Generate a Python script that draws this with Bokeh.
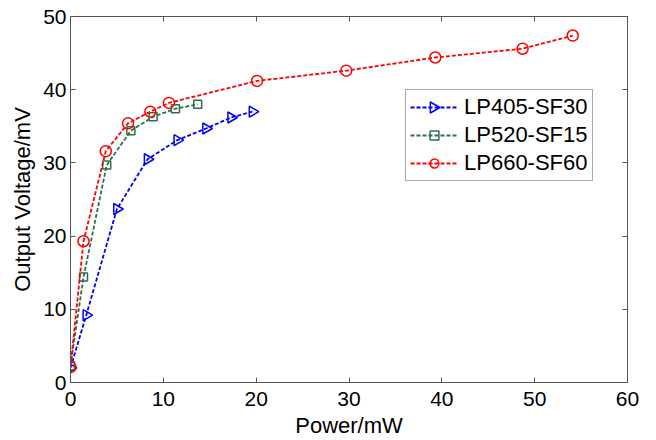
import numpy as np
from bokeh.plotting import figure
from bokeh.models import LinearAxis, Legend, LegendItem, Range1d, FixedTicker
from bokeh.embed import file_html
from bokeh.resources import INLINE

# Data
lp405_x = [0.0, 1.7, 5.0, 8.3, 11.5, 14.6, 17.3, 19.6]
lp405_y = [2.0, 9.2, 23.7, 30.5, 33.1, 34.7, 36.2, 37.0]

lp520_x = [0.0, 1.4, 3.9, 6.5, 8.9, 11.3, 13.7]
lp520_y = [2.3, 14.4, 29.7, 34.4, 36.3, 37.4, 38.0]

lp660_x = [0.0, 1.4, 3.8, 6.2, 8.6, 10.6, 20.1, 29.7, 39.3, 48.7, 54.1]
lp660_y = [2.1, 19.3, 31.6, 35.4, 37.0, 38.2, 41.2, 42.6, 44.4, 45.6, 47.4]

series_names = ["LP405-SF30", "LP520-SF15", "LP660-SF60"]
x_ticks = [0, 10, 20, 30, 40, 50, 60]
y_ticks = [0, 10, 20, 30, 40, 50]

FONT = "Liberation Sans"
AXC = "#555555"

W, H = 656, 440
BL, BR, BT, BB = 70, 29, 16, 56
X0, X1, Y0, Y1 = 0, 60, 0, 50

p = figure(width=W, height=H, output_backend="svg", toolbar_location=None,
           x_range=Range1d(X0, X1), y_range=Range1d(Y0, Y1),
           min_border_left=BL, min_border_right=BR, min_border_top=BT, min_border_bottom=BB)
p.grid.visible = False
p.outline_line_color = AXC
p.background_fill_color = "white"

for ax in [p.xaxis[0], p.yaxis[0]]:
    ax.major_label_text_font = FONT
    ax.major_label_text_font_size = "21px"
    ax.major_label_text_color = "black"
    ax.axis_label_text_font = FONT
    ax.axis_label_text_font_size = "22px"
    ax.axis_label_text_font_style = "normal"
    ax.axis_label_text_color = "black"
    ax.axis_line_color = AXC
    ax.major_tick_line_color = AXC
    ax.major_tick_in = 5
    ax.major_tick_out = 0
    ax.minor_tick_line_color = None

p.xaxis[0].ticker = FixedTicker(ticks=x_ticks)
p.yaxis[0].ticker = FixedTicker(ticks=y_ticks)
p.xaxis[0].axis_label = "Power/mW"
p.yaxis[0].axis_label = "Output Voltage/mV"
p.xaxis[0].major_label_standoff = 9
p.xaxis[0].axis_label_standoff = 4
p.yaxis[0].major_label_standoff = 4
p.yaxis[0].axis_label_standoff = 5

for loc, ticks in [("above", x_ticks), ("right", y_ticks)]:
    ax = LinearAxis(ticker=FixedTicker(ticks=ticks))
    ax.major_label_text_font_size = "0px"
    ax.major_label_text_color = None
    ax.axis_line_color = AXC
    ax.major_tick_line_color = AXC
    ax.major_tick_in = 5
    ax.major_tick_out = 0
    ax.minor_tick_line_color = None
    p.add_layout(ax, loc)

blue = "#0000ff"
green = "#2e6e4c"
red = "#ff0000"
dash = "4 2"

l1 = p.line(lp405_x, lp405_y, line_color=blue, line_width=1.8, line_dash=dash)
m1 = p.scatter(lp405_x, lp405_y, marker="triangle", angle=-np.pi / 2, size=11,
               line_color=blue, fill_color=None, line_width=1.5)
l2 = p.line(lp520_x, lp520_y, line_color=green, line_width=1.8, line_dash=dash)
m2 = p.scatter(lp520_x, lp520_y, marker="square", size=8,
               line_color=green, fill_color=None, line_width=1.5)
l3 = p.line(lp660_x, lp660_y, line_color=red, line_width=1.8, line_dash=dash)
m3 = p.scatter(lp660_x, lp660_y, marker="circle", size=11,
               line_color=red, fill_color=None, line_width=1.5)

LEG_X, LEG_Y = 335, 201
PAD, GLW, SPACING = 4, 48, 2
legend = Legend(items=[
    LegendItem(label=series_names[0], renderers=[l1]),
    LegendItem(label=series_names[1], renderers=[l2, m2]),
    LegendItem(label=series_names[2], renderers=[l3, m3]),
], location=(LEG_X, LEG_Y))
legend.label_text_font = FONT
legend.label_text_font_size = "22px"
legend.label_text_color = "black"
legend.glyph_width = GLW
legend.glyph_height = 22
legend.label_height = 22
legend.spacing = SPACING
legend.padding = PAD
legend.margin = 0
legend.label_standoff = 6
legend.border_line_color = AXC
legend.border_line_width = 1
legend.background_fill_alpha = 0.0
p.add_layout(legend, "center")

# right-pointing triangle symbol for the first legend entry, placed in the
# legend's first row (converted from frame pixels to data units)
frame_w = W - BL - BR
frame_h = H - BT - BB
row_h = 27
leg_h = 3 * row_h + 2 * SPACING + 2 * PAD
sym_px = LEG_X + PAD + GLW / 2
sym_py = LEG_Y + leg_h - PAD - row_h / 2
sym_x = [X0 + (X1 - X0) * sym_px / frame_w]
sym_y = [Y0 + (Y1 - Y0) * sym_py / frame_h]
p.scatter(sym_x, sym_y, marker="triangle", angle=-np.pi / 2, size=11,
          line_color=blue, fill_color="white", line_width=1.5)

open("out.html", "w").write(file_html(p, INLINE))
